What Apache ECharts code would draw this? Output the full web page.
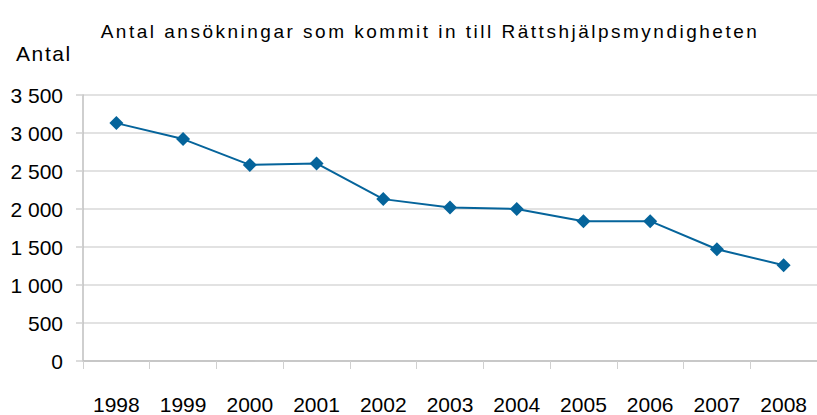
<!DOCTYPE html>
<html>
<head>
<meta charset="utf-8">
<script src="https://cdn.jsdelivr.net/npm/echarts@6/dist/echarts.min.js"></script>
<style>
	html, body { margin: 0; padding: 0; background: #fff; }
	#chart { width: 817px; height: 415px; }
	/* titeln och axelnamnet är glesare satta i originalet */
	#chart text[style*="spaced"] { letter-spacing: 1.6px; }
	#chart text[style*="widest"] { letter-spacing: 2.5px; }
</style>
</head>
<body>
<div id="chart"></div>
<script>
// Antal ansökningar per år
const years = [ '1998', '1999', '2000', '2001', '2002', '2003', '2004', '2005', '2006', '2007', '2008' ];
const antal = [ 3130, 2920, 2580, 2600, 2130, 2020, 2000, 1840, 1840, 1470, 1260 ];
const yTicks = [ 0, 500, 1000, 1500, 2000, 2500, 3000, 3500 ];

const textFont = 'Liberation Sans';
const spacedFont = '"Liberation Sans", spaced';
const titleFont = '"Liberation Sans", widest';

const myChart = echarts.init( document.getElementById( 'chart' ), null, { renderer: 'svg' } );
const option = {
	animation: false,
	title: {
		text: 'Antal ansökningar som kommit in till Rättshjälpsmyndigheten',
		left: 425,
		top: 17,
		textAlign: 'center',
		textStyle: {
			fontFamily: titleFont,
			fontSize: 19,
			fontWeight: 'normal',
			color: '#000'
		}
	},
	grid: {
		left: 83,
		right: 0,
		top: 95,
		bottom: 54
	},
	xAxis: {
		type: 'category',
		data: years,
		boundaryGap: true,
		axisLine: { lineStyle: { color: '#bfbfbf', width: 1.5 } },
		axisTick: { show: true, length: 8, lineStyle: { color: '#d0d0d0', width: 1 } },
		axisLabel: {
			margin: 33,
			fontFamily: textFont,
			fontSize: 21,
			color: '#000'
		}
	},
	yAxis: {
		type: 'value',
		min: yTicks[0],
		max: yTicks[yTicks.length - 1],
		interval: 500,
		name: 'Antal',
		nameLocation: 'end',
		nameGap: 31,
		nameTextStyle: {
			fontFamily: spacedFont,
			fontSize: 21,
			color: '#000',
			align: 'left',
			padding: [ 0, 0, 0, -67 ]
		},
		axisLine: { show: true, lineStyle: { color: '#bfbfbf', width: 1.5 } },
		axisTick: { show: true, length: 7, lineStyle: { color: '#d0d0d0', width: 1.5 } },
		splitLine: { lineStyle: { color: '#d9d9d9', width: 1.5 } },
		axisLabel: {
			margin: 20,
			fontFamily: textFont,
			fontSize: 21,
			color: '#000',
			formatter: function ( v ) {
				return String( v ).replace( /\B(?=(\d{3})+(?!\d))/g, ' ' );
			}
		}
	},
	series: [ {
		type: 'line',
		data: antal,
		symbol: 'diamond',
		symbolSize: 14,
		lineStyle: { color: '#05649b', width: 2 },
		itemStyle: { color: '#05649b' }
	} ]
};
myChart.setOption( option );
</script>
</body>
</html>
